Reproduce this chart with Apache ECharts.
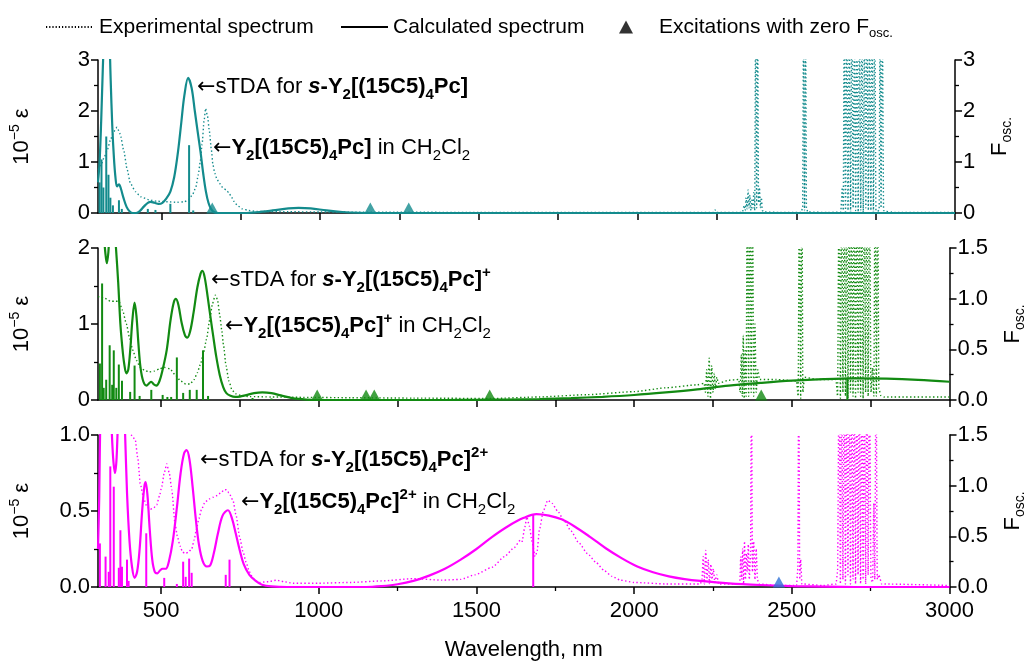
<!DOCTYPE html>
<html>
<head>
<meta charset="utf-8">
<script src="https://cdn.jsdelivr.net/npm/echarts@6.0.0/dist/echarts.min.js"></script>
<style>
  html, body { margin: 0; padding: 0; background: #fff; }
  #chart { width: 1035px; height: 663px; }
</style>
</head>
<body>
<div id="chart"></div>
<script>
const FONT = 'Liberation Sans, Arial, sans-serif'

// x ticks
const upperTicks = [500, 750, 1000, 1250, 1500, 1750, 2000, 2250, 2500, 2750, 3000]
const majorTicks = [500, 1000, 1500, 2000, 2500, 3000]
const minorTicks = [750, 1250, 1750, 2250, 2750]

// ---- top panel: neutral Y2[(15C5)4Pc]
const expNeutral = [
  [300, 0.85], [310, 0.95], [320, 1.1], [330, 1.25], [340, 1.45], [350, 1.6], [360, 1.68], [370, 1.55],
  [381, 1.23], [392, 0.85], [402, 0.58], [418, 0.42], [434, 0.32], [460, 0.26], [486, 0.23], [520, 0.22],
  [550, 0.21], [572, 0.22], [585, 0.26], [598, 0.36], [608, 0.5], [616, 0.75], [622, 1.0], [628, 1.35],
  [634, 1.8], [639, 2.05], [645, 1.9], [651, 1.6], [657, 1.25], [662, 0.95], [668, 0.78], [675, 0.66],
  [683, 0.58], [693, 0.5], [704, 0.45], [712, 0.4], [720, 0.32], [728, 0.23], [740, 0.14], [755, 0.08],
  [775, 0.05], [800, 0.03], [900, 0.025], [1000, 0.02], [1200, 0.015], [1500, 0.012], [1800, 0.01],
  [2200, 0.01], [2240, 0.01], [2244, 0.06], [2248, 0.01], [2330, 0.01], [2336, 0.15], [2339, 0.05],
  [2342, 0.3], [2345, 0.08], [2348, 0.45], [2351, 0.1], [2354, 0.35], [2357, 0.05], [2360, 0.25],
  [2363, 0.1], [2366, 0.4], [2369, 0.05], [2372, 4], [2375, 0.1], [2378, 4], [2381, 0.2], [2384, 0.5],
  [2387, 0.1], [2390, 0.3], [2393, 0.05], [2398, 0.02], [2450, 0.01], [2515, 0.01], [2520, 0.1],
  [2523, 4], [2526, 0.05], [2529, 4], [2532, 0.1], [2536, 0.02], [2600, 0.01], [2640, 0.02], [2645, 0.5],
  [2648, 0.05], [2651, 4], [2655, 0.02], [2659, 4], [2663, 0.05], [2667, 4], [2671, 0.02], [2675, 4],
  [2679, 0.1], [2683, 4], [2687, 0.05], [2691, 4], [2695, 0.02], [2699, 4], [2703, 0.05], [2707, 4],
  [2711, 0.02], [2715, 4], [2719, 0.1], [2723, 4], [2727, 0.05], [2731, 4], [2735, 0.05], [2739, 4],
  [2743, 0.02], [2747, 4], [2751, 0.05], [2756, 0.03], [2761, 0.06], [2764, 4], [2767, 0.1], [2771, 4],
  [2775, 0.05], [2782, 0.03], [2800, 0.02], [2810, 0.01], [3000, 0.01]
]
const calcNeutral = [
  [300, 0.6], [305, 1.0], [310, 1.8], [315, 2.8], [320, 3.6], [328, 4.2], [335, 3.6], [340, 2.6],
  [345, 1.7], [350, 1.1], [355, 0.7], [360, 0.52], [366, 0.56], [372, 0.48], [380, 0.3], [390, 0.12],
  [400, 0.03], [410, 0.0], [420, 0.0], [432, 0.04], [445, 0.13], [457, 0.2], [466, 0.22], [478, 0.2],
  [491, 0.18], [503, 0.2], [515, 0.28], [528, 0.42], [540, 0.7], [552, 1.2], [562, 1.75], [572, 2.3],
  [584, 2.65], [595, 2.45], [605, 2.0], [615, 1.55], [623, 1.2], [632, 0.75], [640, 0.42], [648, 0.2],
  [656, 0.08], [665, 0.02], [680, 0.0], [760, 0.0], [800, 0.015], [850, 0.05], [900, 0.09], [932, 0.1],
  [970, 0.09], [1020, 0.05], [1070, 0.02], [1120, 0.005], [1170, 0], [3000, 0]
]
const sticksNeutral = [
  [305, 0.6], [311, 1.05], [317, 0.5], [326, 1.5], [333, 0.75], [339, 0.3], [347, 0.15], [366, 0.25],
  [375, 0.08], [457, 0.08], [481, 0.06], [528, 0.18], [587, 1.33], [600, 0.05]
]
const darkNeutral = [660, 1158, 1279]

// ---- middle panel: cation
const expCation = [
  [300, 1.36], [320, 1.34], [340, 1.3], [355, 1.3], [366, 1.3], [378, 1.18], [390, 1.0], [400, 0.82],
  [410, 0.66], [422, 0.52], [434, 0.43], [448, 0.39], [462, 0.37], [478, 0.38], [495, 0.41], [510, 0.43],
  [528, 0.41], [545, 0.33], [562, 0.25], [578, 0.21], [592, 0.21], [605, 0.27], [615, 0.36], [624, 0.46],
  [634, 0.6], [644, 0.8], [654, 1.05], [663, 1.27], [672, 1.38], [679, 1.32], [686, 1.12], [692, 0.93],
  [698, 0.72], [706, 0.45], [715, 0.25], [725, 0.13], [738, 0.08], [755, 0.055], [780, 0.045], [850, 0.04],
  [950, 0.035], [1100, 0.03], [1300, 0.025], [1546, 0.02], [1700, 0.04], [1850, 0.07], [2000, 0.11],
  [2100, 0.16], [2200, 0.2], [2222, 0.22], [2226, 0.1], [2230, 0.4], [2234, 0.05], [2238, 0.55],
  [2242, 0.02], [2246, 0.45], [2250, 0.1], [2254, 0.35], [2258, 0.15], [2262, 0.3], [2267, 0.22],
  [2300, 0.26], [2332, 0.27], [2336, 0.1], [2340, 0.6], [2343, 0.05], [2346, 0.85], [2349, 0.02],
  [2352, 0.65], [2355, 0.05], [2359, 3], [2363, 0.05], [2367, 3], [2371, 0.1], [2375, 3], [2379, 0.05],
  [2383, 1.0], [2387, 0.1], [2392, 0.4], [2398, 0.27], [2450, 0.27], [2515, 0.25], [2520, 0.05],
  [2524, 3], [2528, 0.02], [2532, 3], [2535, 0.1], [2540, 0.3], [2580, 0.27], [2640, 0.27], [2645, 0.05],
  [2650, 3], [2654, 0.02], [2658, 3], [2662, 0.1], [2666, 3], [2670, 0.05], [2674, 3], [2678, 0.02],
  [2682, 3], [2686, 0.1], [2690, 3], [2694, 0.05], [2698, 3], [2702, 0.02], [2706, 3], [2710, 0.1],
  [2714, 3], [2718, 0.05], [2722, 3], [2726, 0.02], [2730, 3], [2734, 0.1], [2738, 3], [2742, 0.05],
  [2746, 3], [2751, 0.1], [2756, 0.42], [2760, 0.05], [2764, 3], [2768, 0.05], [2772, 3], [2776, 0.15],
  [2782, 0.06], [2792, 0.04], [3000, 0.04]
]
const calcCation = [
  [300, 2.6], [310, 2.5], [318, 2.2], [323, 1.95], [328, 1.8], [333, 1.95], [340, 2.4], [350, 2.4],
  [357, 2.0], [364, 1.55], [371, 1.0], [377, 0.7], [383, 0.48], [390, 0.35], [396, 0.4], [403, 0.7],
  [409, 1.05], [416, 1.28], [422, 1.1], [428, 0.75], [435, 0.42], [444, 0.24], [454, 0.19], [462, 0.22],
  [469, 0.24], [476, 0.21], [485, 0.19], [495, 0.25], [505, 0.4], [518, 0.66], [530, 1.05], [540, 1.28],
  [547, 1.33], [555, 1.25], [565, 1.02], [575, 0.86], [583, 0.82], [592, 0.9], [603, 1.15], [615, 1.48],
  [625, 1.66], [631, 1.7], [638, 1.62], [648, 1.35], [658, 1.05], [665, 0.85], [675, 0.57], [686, 0.33],
  [697, 0.17], [707, 0.09], [720, 0.055], [735, 0.04], [750, 0.045], [770, 0.065], [795, 0.09], [821, 0.1],
  [850, 0.09], [880, 0.06], [916, 0.025], [960, 0.006], [1000, 0], [1400, 0], [1500, 0.002], [1600, 0.006],
  [1700, 0.013], [1800, 0.025], [1900, 0.042], [2000, 0.066], [2100, 0.1], [2200, 0.14], [2300, 0.19],
  [2400, 0.225], [2500, 0.255], [2600, 0.275], [2700, 0.285], [2800, 0.28], [2900, 0.265], [3000, 0.24]
]
const sticksCation = [
  [306, 0.36], [313, 1.15], [318, 0.12], [326, 0.2], [337, 0.54], [345, 0.15], [350, 0.49], [358, 0.12],
  [366, 0.35], [376, 0.19], [402, 0.08], [416, 0.34], [432, 0.04], [469, 0.1], [505, 0.05], [520, 0.03],
  [532, 0.03], [550, 0.42], [570, 0.07], [591, 0.1], [613, 0.1], [633, 0.49], [649, 0.04], [790, 0.02],
  [850, 0.015], [2676, 0.22]
]
const darkCation = [995, 1150, 1176, 1542, 2403]

// ---- bottom panel: dication
const expDication = [
  [300, 1.3], [330, 1.4], [360, 1.2], [390, 1.05], [405, 1.0], [418, 0.97], [426, 0.85], [434, 0.68],
  [445, 0.58], [455, 0.53], [465, 0.51], [476, 0.52], [486, 0.54], [495, 0.6], [502, 0.66], [510, 0.75],
  [518, 0.81], [526, 0.75], [534, 0.64], [544, 0.42], [552, 0.33], [560, 0.27], [568, 0.23], [576, 0.22],
  [587, 0.23], [597, 0.25], [605, 0.31], [612, 0.38], [620, 0.45], [628, 0.51], [640, 0.56], [654, 0.58],
  [665, 0.59], [675, 0.6], [690, 0.62], [700, 0.64], [707, 0.64], [715, 0.62], [728, 0.57], [738, 0.47],
  [749, 0.33], [760, 0.23], [770, 0.16], [780, 0.1], [791, 0.06], [800, 0.04], [812, 0.03], [840, 0.035],
  [865, 0.045], [890, 0.035], [918, 0.025], [1000, 0.025], [1100, 0.03], [1200, 0.04], [1300, 0.055],
  [1390, 0.045], [1450, 0.05], [1495, 0.08], [1550, 0.13], [1589, 0.2], [1620, 0.26], [1640, 0.31],
  [1645, 0.3], [1652, 0.38], [1660, 0.46], [1668, 0.4], [1676, 0.3], [1686, 0.2], [1692, 0.23],
  [1700, 0.38], [1712, 0.5], [1726, 0.57], [1740, 0.55], [1757, 0.5], [1780, 0.43], [1799, 0.37],
  [1825, 0.29], [1852, 0.22], [1880, 0.16], [1904, 0.11], [1930, 0.07], [1956, 0.045], [2000, 0.03],
  [2100, 0.02], [2210, 0.02], [2215, 0.05], [2219, 0.2], [2223, 0.02], [2227, 0.24], [2231, 0.05],
  [2235, 0.18], [2239, 0.02], [2243, 0.15], [2247, 0.05], [2251, 0.12], [2256, 0.03], [2262, 0.08],
  [2268, 0.02], [2335, 0.02], [2338, 0.2], [2341, 0.05], [2344, 0.25], [2347, 0.02], [2350, 0.3],
  [2353, 0.05], [2356, 0.22], [2359, 0.1], [2362, 0.28], [2365, 0.05], [2369, 0.2], [2372, 1.5],
  [2375, 0.1], [2379, 0.3], [2383, 0.05], [2387, 0.25], [2391, 0.05], [2395, 0.02], [2450, 0.01],
  [2515, 0.01], [2519, 0.12], [2522, 1.5], [2525, 0.05], [2528, 0.18], [2532, 0.02], [2600, 0.01],
  [2640, 0.02], [2645, 0.1], [2650, 1.5], [2654, 0.02], [2658, 1.5], [2662, 0.05], [2666, 1.5],
  [2670, 0.02], [2674, 1.5], [2678, 0.08], [2682, 1.5], [2686, 0.02], [2690, 1.5], [2694, 0.05],
  [2698, 1.5], [2702, 0.02], [2706, 1.5], [2710, 0.08], [2714, 1.5], [2718, 0.02], [2722, 1.5],
  [2726, 0.05], [2730, 1.5], [2734, 0.02], [2738, 1.5], [2742, 0.08], [2746, 1.5], [2751, 0.05],
  [2756, 0.03], [2760, 0.55], [2763, 0.05], [2767, 1.5], [2771, 0.05], [2776, 0.08], [2785, 0.02],
  [3000, 0.01]
]
const calcDication = [
  [300, 0.25], [304, 0.6], [308, 1.2], [315, 1.6], [325, 1.7], [335, 1.4], [342, 1.1], [348, 0.85],
  [354, 0.75], [359, 0.85], [365, 1.2], [372, 1.5], [380, 1.3], [386, 1.0], [392, 0.62], [400, 0.3],
  [408, 0.13], [416, 0.06], [424, 0.1], [432, 0.25], [440, 0.5], [447, 0.66], [451, 0.69], [457, 0.6],
  [464, 0.38], [472, 0.18], [480, 0.1], [488, 0.09], [497, 0.11], [505, 0.12], [515, 0.12], [525, 0.17],
  [537, 0.3], [550, 0.52], [562, 0.75], [573, 0.88], [581, 0.9], [590, 0.84], [600, 0.66], [610, 0.45],
  [620, 0.28], [632, 0.17], [645, 0.135], [655, 0.14], [667, 0.22], [680, 0.35], [695, 0.47], [712, 0.505],
  [725, 0.45], [737, 0.35], [749, 0.245], [762, 0.15], [780, 0.08], [800, 0.04], [820, 0.015], [850, 0.004],
  [900, 0], [1150, 0], [1200, 0.006], [1250, 0.018], [1300, 0.04], [1350, 0.075], [1400, 0.12],
  [1450, 0.18], [1500, 0.25], [1550, 0.33], [1600, 0.4], [1650, 0.455], [1690, 0.48], [1730, 0.47],
  [1770, 0.445], [1810, 0.4], [1860, 0.33], [1910, 0.255], [1960, 0.19], [2010, 0.135], [2060, 0.097],
  [2110, 0.07], [2160, 0.052], [2210, 0.04], [2300, 0.024], [2400, 0.013], [2500, 0.006], [2600, 0.002],
  [2700, 0], [3000, 0]
]
const sticksDication = [
  [306, 0.43], [324, 0.3], [334, 0.15], [339, 1.19], [350, 0.99], [366, 0.19], [371, 0.56], [376, 0.2],
  [392, 0.27], [397, 0.06], [453, 0.53], [510, 0.09], [550, 0.03], [570, 0.25], [578, 0.1], [589, 0.28],
  [597, 0.14], [705, 0.12], [717, 0.27], [1680, 0.72]
]
const darkDication = [2459]

const colors = ['#138b8d', '#128a12', '#ff00ff']
const darkColors = ['#138b8d', '#128a12', '#2f72d6']

const axisLine = {show: true, lineStyle: {color: '#000', width: 1.5}}
const label = {color: '#000', fontSize: 22, fontFamily: FONT}

const makeX = (i) => ({
  type: 'value', gridIndex: i, min: 300, max: 3000,
  axisLine,
  axisTick: {show: true, length: 7, customValues: i < 2 ? upperTicks : majorTicks, lineStyle: {color: '#000', width: 1.5}},
  axisLabel: i < 2 ? {show: false} : {...label, margin: 13, customValues: majorTicks, formatter: v => String(v)},
  splitLine: {show: false},
  name: i === 2 ? 'Wavelength, nm' : '',
  nameLocation: 'middle', nameGap: 52,
  nameTextStyle: {...label}
})

const yName = {
  ...label, lineHeight: 28,
  rich: {sup: {fontSize: 14, fontFamily: FONT, color: '#000', verticalAlign: 'top', lineHeight: 14}}
}
const fName = {
  ...label, lineHeight: 28,
  rich: {sub: {fontSize: 14, fontFamily: FONT, color: '#000', verticalAlign: 'bottom', lineHeight: 14}}
}

const makeY = (i, side, max, interval, digits) => ({
  type: 'value', gridIndex: i, position: side, min: 0, max, interval,
  axisLine,
  axisTick: {show: true, length: 7, lineStyle: {color: '#000', width: 1.5}},
  minorTick: {show: true, splitNumber: 2, length: 4, lineStyle: {color: '#000', width: 1.3}},
  splitLine: {show: false}, minorSplitLine: {show: false},
  axisLabel: {...label, margin: 8, formatter: v => v.toFixed(digits)},
  name: side === 'left' ? '10{sup|−5} ε' : 'F{sub|osc.}',
  nameLocation: 'middle', nameRotate: 90,
  nameGap: side === 'left' ? 62 : 31,
  nameTextStyle: side === 'left' ? yName : fName
})

const xAxis = [makeX(0), makeX(1), makeX(2), {
  type: 'value', gridIndex: 2, min: 300, max: 3000, position: 'bottom',
  axisLine: {show: false},
  axisTick: {show: true, length: 4, customValues: minorTicks, lineStyle: {color: '#000', width: 1.3}},
  axisLabel: {show: false}, splitLine: {show: false}
}]
const yAxis = [
  makeY(0, 'left', 3, 1, 0), makeY(0, 'right', 3, 1, 0),
  makeY(1, 'left', 2, 1, 0), makeY(1, 'right', 1.5, 0.5, 1),
  makeY(2, 'left', 1, 0.5, 1), makeY(2, 'right', 1.5, 0.5, 1)
]

const panels = [
  [expNeutral, calcNeutral, sticksNeutral, darkNeutral],
  [expCation, calcCation, sticksCation, darkCation],
  [expDication, calcDication, sticksDication, darkDication]
]

const series = []
panels.forEach(([exp, calc, sticks, dark], i) => {
  series.push({
    name: 'exp' + i, type: 'line', xAxisIndex: i, yAxisIndex: 2 * i, data: exp,
    showSymbol: false, symbol: 'none', clip: true, smooth: 0.2, smoothMonotone: 'x',
    lineStyle: {color: colors[i], width: 1.4, type: [1.4, 2.4]}, z: 2
  })
  series.push({
    name: 'sticks' + i, type: 'bar', xAxisIndex: i, yAxisIndex: 2 * i + 1, data: sticks,
    barWidth: 2, itemStyle: {color: colors[i]}, z: 3
  })
  series.push({
    name: 'calc' + i, type: 'line', xAxisIndex: i, yAxisIndex: 2 * i, data: calc,
    showSymbol: false, symbol: 'none', clip: true, smooth: 0.35,
    lineStyle: {color: colors[i], width: 2.2}, z: 4
  })
  series.push({
    name: 'dark' + i, type: 'scatter', xAxisIndex: i, yAxisIndex: 2 * i + 1,
    data: dark.map(x => [x, 0]), symbol: 'triangle', symbolSize: [12, 11], symbolOffset: [0, -5],
    itemStyle: {color: darkColors[i]}, z: 5
  })
})

// legend-only series
series.push({name: 'Experimental spectrum', type: 'line', data: [], symbol: 'none', showSymbol: false,
  lineStyle: {color: '#000', width: 1.2, type: [1.2, 2]}, itemStyle: {color: '#000'}})
series.push({name: 'Calculated spectrum', type: 'line', data: [], symbol: 'none', showSymbol: false,
  lineStyle: {color: '#000', width: 2}, itemStyle: {color: '#000'}})
series.push({name: 'Excitations with zero Fosc', type: 'scatter', data: [], symbol: 'triangle',
  symbolKeepAspect: true, itemStyle: {color: '#000'}})

const legendText = {
  color: '#000', fontSize: 21, fontFamily: FONT, lineHeight: 26,
  rich: {sub: {fontSize: 13, fontFamily: FONT, color: '#000', verticalAlign: 'bottom', lineHeight: 13}}
}
const legend = [
  {data: [{name: 'Experimental spectrum', itemStyle: {opacity: 0}}], left: 40, top: 9, itemWidth: 48, itemHeight: 12,
    textStyle: legendText, selectedMode: false},
  {data: [{name: 'Calculated spectrum', itemStyle: {opacity: 0}}], left: 335, top: 9, itemWidth: 47, itemHeight: 12,
    textStyle: legendText, selectedMode: false},
  {data: [{name: 'Excitations with zero Fosc', icon: 'triangle'}], left: 614, top: 9, itemWidth: 14, itemHeight: 13,
    textStyle: {...legendText, rich: {...legendText.rich, pad: {width: 21}}}, selectedMode: false, symbolKeepAspect: true,
    formatter: () => '{pad|}Excitations with zero F{sub|osc.}'}
]

// annotations
const annoRich = {
  ar: {fontSize: 22, fontFamily: 'DejaVu Sans'},
  b: {fontWeight: 'bold', fontSize: 22, fontFamily: FONT},
  bi: {fontWeight: 'bold', fontStyle: 'italic', fontSize: 22, fontFamily: FONT},
  bs: {fontWeight: 'bold', fontSize: 15, fontFamily: FONT, verticalAlign: 'bottom', lineHeight: 15},
  bp: {fontWeight: 'bold', fontSize: 15, fontFamily: FONT, verticalAlign: 'top', lineHeight: 15},
  s: {fontSize: 15, fontFamily: FONT, verticalAlign: 'bottom', lineHeight: 15}
}
const annotations = [
  [197, 87, '{ar|←}sTDA for {bi|s}{b|-Y}{bs|2}{b|[(15C5)}{bs|4}{b|Pc]}'],
  [213, 148, '{ar|←}{b|Y}{bs|2}{b|[(15C5)}{bs|4}{b|Pc]} in CH{s|2}Cl{s|2}'],
  [211, 280, '{ar|←}sTDA for {bi|s}{b|-Y}{bs|2}{b|[(15C5)}{bs|4}{b|Pc]}{bp|+}'],
  [225, 326, '{ar|←}{b|Y}{bs|2}{b|[(15C5)}{bs|4}{b|Pc]}{bp|+} in CH{s|2}Cl{s|2}'],
  [200, 460, '{ar|←}sTDA for {bi|s}{b|-Y}{bs|2}{b|[(15C5)}{bs|4}{b|Pc]}{bp|2+}'],
  [241, 502, '{ar|←}{b|Y}{bs|2}{b|[(15C5)}{bs|4}{b|Pc]}{bp|2+} in CH{s|2}Cl{s|2}']
]
const graphic = annotations.map(([x, y, text]) => ({
  type: 'text', x, y, z: 100,
  style: {text, rich: annoRich, fontSize: 22, fontFamily: FONT, fill: '#000', lineHeight: 30, verticalAlign: 'middle'}
}))

const chart = echarts.init(document.getElementById('chart'))
chart.setOption({
  animation: false,
  backgroundColor: '#fff',
  textStyle: {fontFamily: FONT},
  grid: [
    {left: 97, right: 80, top: 60, height: 153},
    {left: 97, right: 80, top: 248, height: 152},
    {left: 97, right: 80, top: 435, height: 152}
  ],
  legend,
  xAxis,
  yAxis,
  series,
  graphic
})
</script>
</body>
</html>
